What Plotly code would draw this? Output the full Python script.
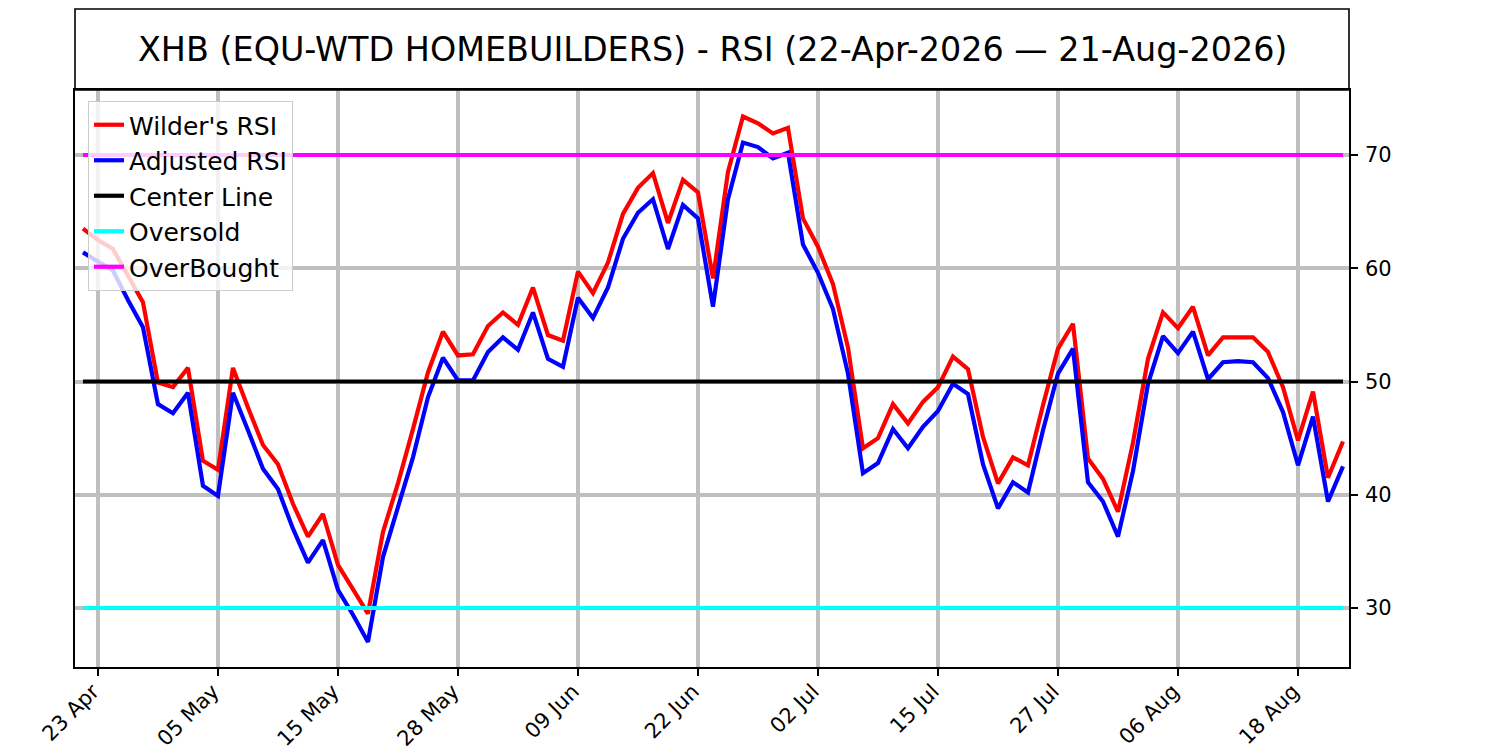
import plotly.graph_objects as go

# Trading days (categories)
DATES = (
    ["2026-04-%02d" % d for d in [22, 23, 24, 27, 28, 29, 30]]
    + ["2026-05-%02d" % d for d in [1, 4, 5, 6, 7, 8, 11, 12, 13, 14, 15, 18, 19, 20, 21, 22, 26, 27, 28, 29]]
    + ["2026-06-%02d" % d for d in [1, 2, 3, 4, 5, 8, 9, 10, 11, 12, 15, 16, 17, 18, 22, 23, 24, 25, 26, 29, 30]]
    + ["2026-07-%02d" % d for d in [1, 2, 6, 7, 8, 9, 10, 13, 14, 15, 16, 17, 20, 21, 22, 23, 24, 27, 28, 29, 30, 31]]
    + ["2026-08-%02d" % d for d in [3, 4, 5, 6, 7, 10, 11, 12, 13, 14, 17, 18, 19, 20, 21]]
)

WILDER_RSI = [
    63.5, 62.5, 61.7, 59.4, 57.0, 49.9, 49.5, 51.2, 43.0, 42.2,
    51.2, 47.7, 44.4, 42.7, 39.2, 36.3, 38.3, 33.8, 31.7, 29.5,
    36.7, 41.0, 45.8, 50.8, 54.4, 52.3, 52.4, 54.9, 56.1, 55.0,
    58.3, 54.1, 53.6, 59.7, 57.8, 60.5, 64.8, 67.1, 68.4, 64.0,
    67.8, 66.7, 59.1, 68.5, 73.4, 72.8, 71.9, 72.4, 64.4, 61.9,
    58.6, 53.0, 44.1, 45.0, 48.0, 46.3, 48.2, 49.5, 52.2, 51.1,
    45.1, 41.0, 43.3, 42.6, 47.9, 52.9, 55.1, 43.2, 41.4, 38.5,
    44.6, 52.0, 56.1, 54.7, 56.6, 52.3, 53.9, 53.9, 53.9, 52.6,
    49.5, 44.8, 49.1, 41.5, 44.7,
]

ADJUSTED_RSI = [
    61.4, 60.6, 59.8, 57.2, 54.8, 48.0, 47.2, 49.0, 40.8, 39.9,
    49.0, 45.7, 42.3, 40.5, 37.0, 34.0, 36.0, 31.6, 29.4, 27.0,
    34.5, 38.9, 43.3, 48.6, 52.1, 50.1, 50.1, 52.6, 53.9, 52.8,
    56.1, 52.0, 51.3, 57.4, 55.6, 58.3, 62.6, 64.9, 66.1, 61.7,
    65.6, 64.4, 56.6, 66.1, 71.1, 70.7, 69.7, 70.2, 62.1, 59.6,
    56.4, 50.7, 41.9, 42.8, 45.8, 44.1, 46.0, 47.4, 49.8, 48.9,
    42.7, 38.8, 41.1, 40.2, 45.7, 50.7, 52.9, 41.1, 39.4, 36.3,
    42.1, 49.8, 54.0, 52.5, 54.4, 50.2, 51.7, 51.8, 51.7, 50.3,
    47.3, 42.6, 46.9, 39.4, 42.5,
]

CENTER_LEVEL = 50
OVERSOLD_LEVEL = 30
OVERBOUGHT_LEVEL = 70

TICK_DATES = ["2026-04-23", "2026-05-05", "2026-05-15", "2026-05-28", "2026-06-09",
              "2026-06-22", "2026-07-02", "2026-07-15", "2026-07-27", "2026-08-06", "2026-08-18"]
TICK_LABELS = ["23 Apr", "05 May", "15 May", "28 May", "09 Jun",
               "22 Jun", "02 Jul", "15 Jul", "27 Jul", "06 Aug", "18 Aug"]
Y_TICKS = [30, 40, 50, 60, 70]

TITLE = "XHB (EQU-WTD HOMEBUILDERS) - RSI (22-Apr-2026 \u2014 21-Aug-2026)"

FONT = "DejaVu Sans"
LW = 4.2

fig = go.Figure()
fig.add_trace(go.Scatter(x=DATES, y=WILDER_RSI, mode="lines", name="Wilder's RSI",
                         line=dict(color="#ff0000", width=LW)))
fig.add_trace(go.Scatter(x=DATES, y=ADJUSTED_RSI, mode="lines", name="Adjusted RSI",
                         line=dict(color="#0000ff", width=LW)))
fig.add_trace(go.Scatter(x=DATES, y=[CENTER_LEVEL] * len(DATES), mode="lines", name="Center Line",
                         line=dict(color="#000000", width=LW)))
fig.add_trace(go.Scatter(x=DATES, y=[OVERSOLD_LEVEL] * len(DATES), mode="lines", name="Oversold",
                         line=dict(color="#00ffff", width=LW)))
fig.add_trace(go.Scatter(x=DATES, y=[OVERBOUGHT_LEVEL] * len(DATES), mode="lines", name="OverBought",
                         line=dict(color="#ff00ff", width=LW)))

# Page geometry (pixels; the page body margin is removed below)
L, R, T, B = 75, 1349, 90, 667
W, H = 1500, 750
plot_h = B - T

fig.update_layout(
    width=W, height=H,
    margin=dict(l=L, r=W - R, t=T, b=H - B, pad=0, autoexpand=False),
    paper_bgcolor="white", plot_bgcolor="white",
    font=dict(family=FONT, color="black", size=21),
    showlegend=True,
    legend=dict(x=(88 - L) / (R - L), y=(B - 101) / plot_h, xanchor="left", yanchor="top",
                bgcolor="rgba(255,255,255,0.8)", bordercolor="#cccccc", borderwidth=1,
                font=dict(family=FONT, size=25, color="black"),
                itemwidth=30, tracegroupgap=0),
    xaxis=dict(
        type="category",
        range=[-0.53, 84.4],
        automargin=False,
        tickmode="array", tickvals=TICK_DATES, ticktext=TICK_LABELS,
        tickangle=-45,
        tickfont=dict(family=FONT, size=21, color="black"),
        ticks="outside", ticklen=7, tickwidth=1.6, tickcolor="black",
        ticklabelstandoff=-5, ticklabelshift=-5,
        showgrid=True, gridcolor="#bfbfbf", gridwidth=4.4,
        showline=True, linecolor="black", linewidth=1.6, mirror=True,
        zeroline=False,
    ),
    yaxis=dict(
        side="right",
        range=[24.79, 75.74],
        automargin=False,
        tickmode="array", tickvals=Y_TICKS,
        tickfont=dict(family=FONT, size=21, color="black"),
        ticks="outside", ticklen=7, tickwidth=1.6, tickcolor="black",
        ticklabelstandoff=3,
        showgrid=True, gridcolor="#bfbfbf", gridwidth=4.4,
        showline=True, linecolor="black", linewidth=1.6, mirror=True,
        zeroline=False,
    ),
)

# Title box above the plot
top_y = (B - 9) / plot_h
fig.add_shape(type="rect", xref="paper", yref="paper", x0=0, x1=1, y0=1, y1=top_y,
              line=dict(color="black", width=1.6), fillcolor="rgba(0,0,0,0)", layer="above")
fig.add_annotation(xref="paper", yref="paper", x=0.5, y=(1 + top_y) / 2,
                   text=TITLE, showarrow=False, xanchor="center", yanchor="middle",
                   font=dict(family=FONT, size=33.4, color="black"))

fig.write_html("out.html", config={"displayModeBar": False},
               post_script="document.body.style.margin='0px';")
